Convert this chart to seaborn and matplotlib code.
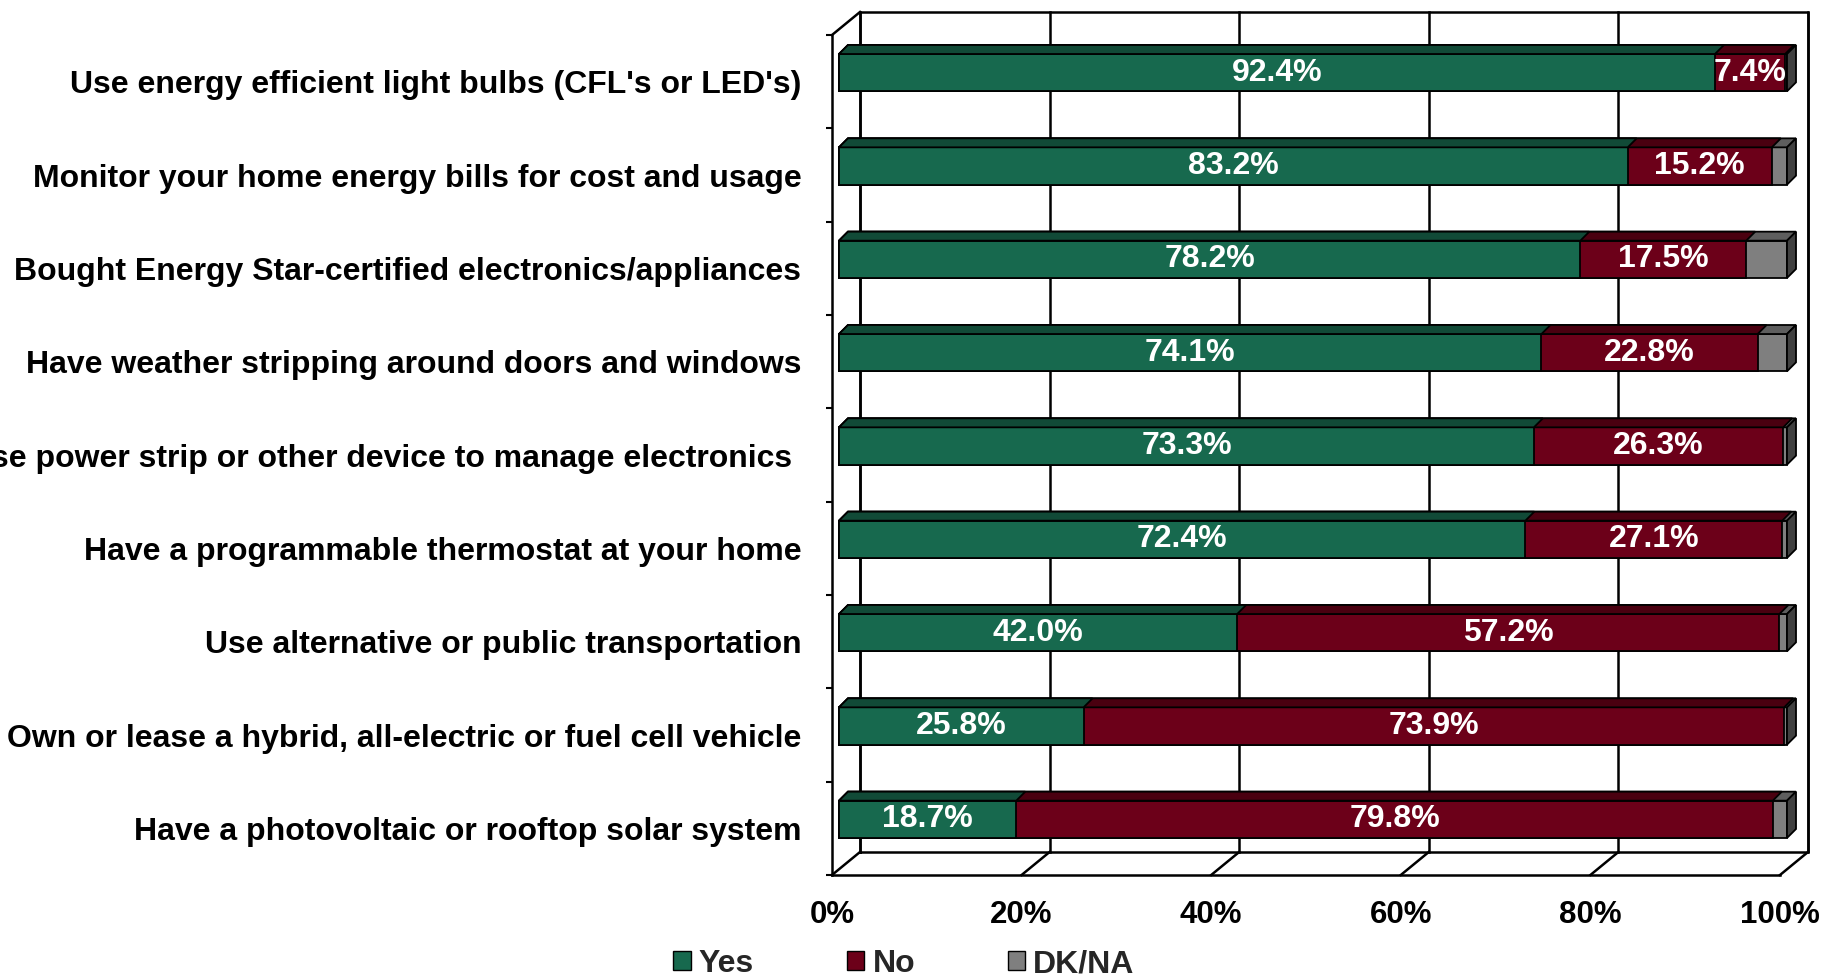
import matplotlib
matplotlib.use("Agg")
import matplotlib.pyplot as plt
import seaborn as sns
import pandas as pd
import numpy as np
from matplotlib.patches import Polygon, Patch
from matplotlib.transforms import offset_copy

items = [
    "Use energy efficient light bulbs (CFL's or LED's)",
    "Monitor your home energy bills for cost and usage",
    "Bought Energy Star-certified electronics/appliances",
    "Have weather stripping around doors and windows",
    "Use power strip or other device to manage electronics ",
    "Have a programmable thermostat at your home",
    "Use alternative or public transportation",
    "Own or lease a hybrid, all-electric or fuel cell vehicle",
    "Have a photovoltaic or rooftop solar system",
]
yes = [92.4, 83.2, 78.2, 74.1, 73.3, 72.4, 42.0, 25.8, 18.7]
no = [7.4, 15.2, 17.5, 22.8, 26.3, 27.1, 57.2, 73.9, 79.8]
dkna = [0.2, 1.6, 4.3, 3.1, 0.4, 0.5, 0.8, 0.3, 1.5]
series_names = ["Yes", "No", "DK/NA"]
xticks = [0, 20, 40, 60, 80, 100]

GREEN, GREEN_TOP = "#17694E", "#114A37"
RED, RED_TOP = "#6C0019", "#4A0010"
GRAY, GRAY_TOP, GRAY_SIDE = "#7F7F7F", "#5E5E5E", "#404040"

sns.set_theme(style="white")
plt.rcParams['font.family'] = ['Liberation Sans', 'DejaVu Sans']

df = pd.DataFrame({"item": items, "yes": yes, "no": no, "dkna": dkna})
df["yes_no"] = df["yes"] + df["no"]
df["total"] = df["yes_no"] + df["dkna"]

W, H = 1835, 980
fig = plt.figure(figsize=(W / 100, H / 100), dpi=100)
# front plane of the pseudo-3d box, in pixels
left_px, right_px, top_px, bot_px = 832, 1780, 35, 875
ax = fig.add_axes([left_px / W, 1 - bot_px / H, (right_px - left_px) / W, (bot_px - top_px) / H])
ax.set_facecolor("none")

n = len(items)
ppx = (right_px - left_px) / 100.0
ppy = (bot_px - top_px) / n

# depth offsets (pixels -> data units)
wdx, wdy = 28 / ppx, 23 / ppy      # walls
bdx, bdy = 9 / ppx, 9 / ppy        # bar depth
bar_tr = offset_copy(ax.transData, fig=fig, x=7, y=9, units='dots')

layers = [("total", GRAY, GRAY_TOP), ("yes_no", RED, RED_TOP), ("yes", GREEN, GREEN_TOP)]
for i, (col, c, ctop) in enumerate(layers):
    n0 = len(ax.patches)
    sns.barplot(data=df, x=col, y="item", orient="h", color=c, saturation=1, width=0.4,
                edgecolor="black", linewidth=1.3, errorbar=None, ax=ax)
    for p in list(ax.patches[n0:]):
        p.set_transform(bar_tr)
        p.set_zorder(3 + i)
        x0, y0, w, h = p.get_x(), p.get_y(), p.get_width(), p.get_height()
        top = Polygon([(x0, y0), (x0 + w, y0), (x0 + w + bdx, y0 - bdy), (x0 + bdx, y0 - bdy)],
                      closed=True, fc=ctop, ec="black", lw=1.3, transform=bar_tr, zorder=3 + i, clip_on=False)
        ax.add_patch(top)
        if col == "total":
            side = Polygon([(x0 + w, y0), (x0 + w + bdx, y0 - bdy), (x0 + w + bdx, y0 + h - bdy), (x0 + w, y0 + h)],
                           closed=True, fc=GRAY_SIDE, ec="black", lw=1.3, transform=bar_tr, zorder=3 + i, clip_on=False)
            ax.add_patch(side)
        p.set_clip_on(False)

# value labels
for i in range(n):
    ax.text(yes[i] / 2, i, f"{yes[i]:.1f}%", transform=bar_tr, ha="center", va="center",
            color="white", fontsize=23, fontweight="bold", zorder=10)
    ax.text(yes[i] + no[i] / 2, i, f"{no[i]:.1f}%", transform=bar_tr, ha="center", va="center",
            color="white", fontsize=23, fontweight="bold", zorder=10)

ax.set_xlim(0, 100)
ax.set_ylim(n - 0.5, -0.5)
ybot, ytop = n - 0.5, -0.5

# back wall, gridlines and floor
lk = dict(color="black", lw=1.8, clip_on=False, zorder=1, solid_capstyle="projecting")
ax.plot([wdx, 100 + wdx, 100 + wdx, wdx, wdx],
        [ybot - wdy, ybot - wdy, ytop - wdy, ytop - wdy, ybot - wdy], **lk)
for t in xticks:
    ax.plot([t + wdx, t + wdx], [ybot - wdy, ytop - wdy], **lk)
    ax.plot([t, t + wdx], [ybot, ybot - wdy], **lk)
ax.plot([0, wdx], [ytop, ytop - wdy], **lk)

for s in ["top", "right"]:
    ax.spines[s].set_visible(False)
for s in ["left", "bottom"]:
    ax.spines[s].set_color("black")
    ax.spines[s].set_linewidth(1.8)
    ax.spines[s].set_zorder(2)

ax.set_xticks(xticks)
ax.set_xticklabels([f"{t}%" for t in xticks], fontsize=22.5, fontweight="bold")
ax.tick_params(axis="x", direction="out", length=6, width=1.5, pad=12, colors="black")
ax.set_yticks(range(n))
ax.set_yticklabels(items, fontsize=23, fontweight="bold")
ax.set_yticks(np.arange(-0.5, n), minor=True)
ax.tick_params(axis="y", which="major", length=0, pad=22, colors="black")
ax.tick_params(axis="y", which="minor", direction="out", length=4.5, width=1.5, left=True, color="black")
ax.set_xlabel("")
ax.set_ylabel("")

handles = [Patch(facecolor=c, edgecolor="black", lw=1.0) for c in [GREEN, RED, GRAY]]
fig.legend(handles, series_names, loc="center", bbox_to_anchor=(904 / W, 1 - 964 / H), ncol=3,
           frameon=False, prop={"weight": "bold", "size": 23}, handlelength=0.55, handleheight=0.55,
           handletextpad=0.25, columnspacing=2.9)

fig.savefig("out.png", dpi=100)
